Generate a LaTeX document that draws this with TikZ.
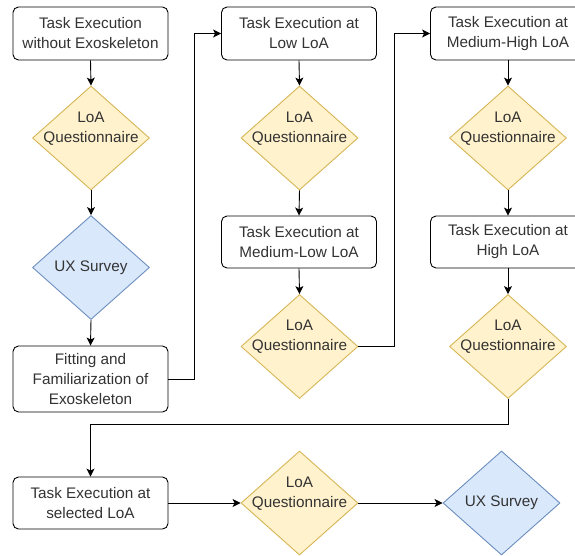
\documentclass[tikz,border=0pt]{standalone}
\usepackage{fontspec}
\setmainfont{Liberation Sans}
\usetikzlibrary{shapes.geometric,arrows.meta}
\definecolor{yfill}{HTML}{FFF2CC}
\definecolor{ydraw}{HTML}{D6B656}
\definecolor{bfill}{HTML}{DAE8FC}
\definecolor{bdraw}{HTML}{6C8EBF}
\definecolor{txtc}{HTML}{333333}
\tikzset{
  box/.style={draw=black, line width=0.9pt, rounded corners=5.5pt, fill=white,
    minimum width=155pt, minimum height=53pt, inner sep=0pt, align=center,
    text=txtc, font=\fontsize{15.3}{20}\selectfont},
  ydiam/.style={shape=diamond, draw=ydraw, fill=yfill, line width=0.9pt,
    minimum width=117pt, minimum height=104pt, inner sep=0pt, aspect=1.125},
  bdiam/.style={shape=diamond, draw=bdraw, fill=bfill, line width=0.9pt,
    minimum width=117pt, minimum height=104pt, inner sep=0pt, aspect=1.125},
  dtxt/.style={align=center, inner sep=0pt, text=txtc, font=\fontsize{15.3}{20}\selectfont},
  arr/.style={draw=black, line width=0.9pt, -{Stealth[length=8pt, width=8pt, inset=2pt]}},
}
\begin{document}
\begin{tikzpicture}[x=1pt, y=-1pt]
\useasboundingbox (0,0) rectangle (575,556);
\clip (0,0) rectangle (575,556);
% column 1
\node[box] (b1) at (90.5,33.5) {Task Execution\\without Exoskeleton};
\node[ydiam] (d1) at (91,138) {};
\node[dtxt] (d1t) at ([yshift=9.5pt]d1.center) {LoA\\Questionnaire};
\node[bdiam] (u1) at (91,267.5) {};
\node[dtxt] (u1t) at (u1.center) {UX Survey};
\node[box, minimum height=66pt] (fit) at (90.5,379) {Fitting and\\Familiarization of\\Exoskeleton};
% column 2
\node[box] (b2) at (299,33.5) {Task Execution at\\Low LoA};
\node[ydiam] (d2) at (299.5,138) {};
\node[dtxt] (d2t) at ([yshift=9.5pt]d2.center) {LoA\\Questionnaire};
\node[box, minimum height=52pt] (b3) at (299,242) {Task Execution at\\Medium-Low LoA};
\node[ydiam] (d3) at (299.5,346.5) {};
\node[dtxt] (d3t) at ([yshift=9.5pt]d3.center) {LoA\\Questionnaire};
% column 3
\node[box] (b4) at (508,33.5) {Task Execution at\\Medium-High LoA};
\node[ydiam] (d4) at (508,138) {};
\node[dtxt] (d4t) at ([yshift=9.5pt]d4.center) {LoA\\Questionnaire};
\node[box, minimum height=52pt] (b5) at (508,242) {Task Execution at\\High LoA};
\node[ydiam] (d5) at (508,346.5) {};
\node[dtxt] (d5t) at ([yshift=9.5pt]d5.center) {LoA\\Questionnaire};
% bottom row
\node[box, minimum height=52pt] (b6) at (90.5,503) {Task Execution at\\selected LoA};
\node[ydiam] (d6) at (299.5,503) {};
\node[dtxt] (d6t) at ([yshift=9.5pt]d6.center) {LoA\\Questionnaire};
\node[bdiam] (u2) at (501.5,503) {};
\node[dtxt] (u2t) at (u2.center) {UX Survey};
% connectors
\draw[arr] (b1.south) -- (d1.north);
\draw[arr] (d1.south) -- (u1.north);
\draw[arr] (u1.south) -- (fit.north);
\draw[arr] (fit.east) -- ++(25.5,0) |- (b2.west);
\draw[arr] (b2.south) -- (d2.north);
\draw[arr] (d2.south) -- (b3.north);
\draw[arr] (b3.south) -- (d3.north);
\draw[arr] (d3.east) -- ++(36,0) |- (b4.west);
\draw[arr] (b4.south) -- (d4.north);
\draw[arr] (d4.south) -- (b5.north);
\draw[arr] (b5.south) -- (d5.north);
\draw[arr] (d5.south) -- ++(0,25.5) -| (b6.north);
\draw[arr] (b6.east) -- (d6.west);
\draw[arr] (d6.east) -- (u2.west);
\end{tikzpicture}
\end{document}
